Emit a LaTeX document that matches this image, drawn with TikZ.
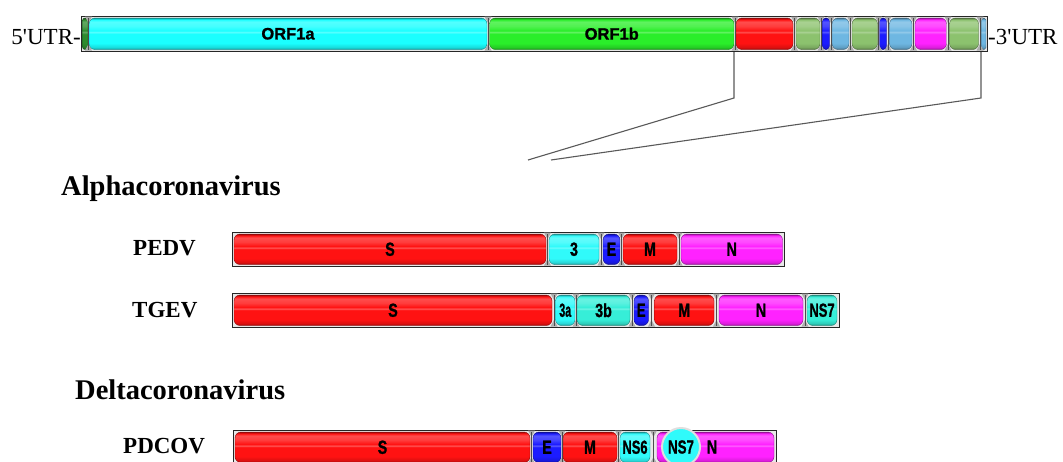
\documentclass[tikz,border=0pt]{standalone}
\usepackage{fontspec}
\usepackage{graphicx}
\setmainfont{Liberation Serif}
\newfontfamily\labfont{Liberation Sans}[BoldFeatures={FakeBold=1.2}]
\usetikzlibrary{calc}

% glossy fill for gene segments; stops lie in the 25bp..75bp band that maps onto the path
\colorlet{segc}{red}
\pgfdeclareverticalshading[segc]{gloss}{100bp}{%
  color(0bp)=(segc!55!black); color(25bp)=(segc!55!black);
  color(28bp)=(segc!85!black); color(35bp)=(segc);
  color(50bp)=(segc); color(52.5bp)=(segc!72!white); color(55bp)=(segc);
  color(62bp)=(segc!82!white); color(69bp)=(segc!75!white);
  color(72.5bp)=(segc); color(75bp)=(segc!60!black); color(100bp)=(segc!60!black)}

\definecolor{cyanS}{HTML}{1AFFFF}
\definecolor{grnS}{HTML}{2AEE2A}
\definecolor{redS}{HTML}{FF1212}
\definecolor{oliveS}{HTML}{8CC26E}
\definecolor{blueS}{HTML}{1C1CFF}
\definecolor{ltblS}{HTML}{6EB7E2}
\definecolor{magS}{HTML}{FF22FF}
\definecolor{dkgS}{HTML}{2E8B2E}
\definecolor{tealS}{HTML}{36EED8}
\definecolor{aquaS}{HTML}{30FAFA}

\tikzset{
  seg/.style={rectangle, inner sep=0pt, shading=gloss, draw=segc!55!black,
    line width=0.4pt, text=black, font=\labfont\bfseries\fontsize{16.5}{16.5}\selectfont},
  frame/.style={rectangle, inner sep=0pt, draw=black!85, line width=0.8pt, fill=gray!18},
  wedge/.style={fill=gray!65},
  seam/.style={draw=black!70, line width=0.5pt},
  link/.style={draw=black!65, line width=1.1pt},
  virus/.style={font=\bfseries\fontsize{28.5}{30}\selectfont, inner sep=0pt, anchor=base west},
  strain/.style={font=\bfseries\fontsize{23}{25}\selectfont, inner sep=0pt, anchor=base west},
  utr/.style={font=\fontsize{23}{25}\selectfont, inner sep=0pt},
}

% condensed gene label text
\newcommand\cnd[2][0.75]{\scalebox{#1}[1]{\fontsize{19}{19}\selectfont #2}}

% \seg{name}{x1}{x2}{colour}{label} between rows \yt and \yb
\newcommand\seg[5]{%
  \colorlet{segc}{#4}%
  \node[seg, minimum width={#3-#2}, minimum height={\yb-\yt},
        rounded corners={min(6,(#3-#2)/2-0.3)}]
        (#1) at ({(#2+#3)/2},{(\yt+\yb)/2}) {#5};}

% \junc{x}: grey hourglass between two neighbouring segments
\newcommand\junc[1]{%
  \fill[wedge] (#1-3.5,\yt-1.5) -- (#1+3.5,\yt-1.5) -- (#1,\yt+5) -- cycle;
  \fill[wedge] (#1-3.5,\yb+1) -- (#1+3.5,\yb+1) -- (#1,\yb-5.5) -- cycle;
  \draw[seam] (#1,\yt) -- (#1,\yb);}

\begin{document}
\begin{tikzpicture}[x=1pt,y=-1pt]
\useasboundingbox (0,0) rectangle (1063,461);
\clip (0,0) rectangle (1063,461);

% ---------- whole genome ----------
\coordinate (a1) at (734,51);
\coordinate (a2) at (734,98);
\coordinate (a3) at (528,160);
\coordinate (b1) at (981,51);
\coordinate (b2) at (981,98);
\coordinate (b3) at (551,160);
\draw[link] (a1) -- (a2) -- (a3);
\draw[link] (b1) -- (b2) -- (b3);

\node[frame, minimum width=906.5, minimum height=35] (genome) at (534.25,33.5) {};
\def\yt{18}\def\yb{49.5}
\seg{g0}{82.5}{88}{dkgS}{}
\seg{orf1a}{89}{487}{cyanS}{ORF1a}
\seg{orf1b}{489.5}{734}{grnS}{ORF1b}
\seg{gS}{736}{793}{redS}{}
\seg{g1}{796}{820}{oliveS}{}
\seg{g2}{822.5}{829.5}{blueS}{}
\seg{g3}{832}{849}{ltblS}{}
\seg{g4}{852}{877.5}{oliveS}{}
\seg{g5}{879.5}{886.5}{blueS}{}
\seg{g6}{889.5}{912}{ltblS}{}
\seg{g7}{915}{946.5}{magS}{}
\seg{g8}{949.5}{978.5}{oliveS}{}
\seg{g9}{981.5}{986}{ltblS}{}
\foreach \j in {88.5,488,735,794.5,821,831,850.5,878.5,888,913.5,948,980}{\junc{\j}}

\node[utr, anchor=base east] (utr5) at (81,44) {5\textquotesingle UTR-};
\node[utr, anchor=base west] (utr3) at (988,44) {-3\textquotesingle UTR};

% ---------- Alphacoronavirus ----------
\node[virus] (alpha) at (61,195) {Alphacoronavirus};
\node[strain] (pedv) at (133,255) {PEDV};
\node[strain] (tgev) at (132,317) {TGEV};

\node[frame, minimum width=552.5, minimum height=34] (pedvbar) at (508.25,249) {};
\def\yt{234}\def\yb{264.5}
\seg{pS}{234}{546}{redS}{\cnd{S}}
\seg{p3}{549}{599}{aquaS}{\cnd{3}}
\seg{pE}{603}{620}{blueS}{\cnd{E}}
\seg{pM}{623}{677}{redS}{\cnd{M}}
\seg{pN}{681}{782.5}{magS}{\cnd{N}}
\foreach \j in {547.5,601,621.5,679}{\junc{\j}}

\node[frame, minimum width=607, minimum height=34] (tgevbar) at (535.5,310) {};
\def\yt{295}\def\yb{325.5}
\seg{tS}{234}{552}{redS}{\cnd{S}}
\seg{t3a}{555.5}{575}{aquaS}{\cnd[0.56]{3a}}
\seg{t3b}{577}{630}{tealS}{\cnd{3b}}
\seg{tE}{634}{648.5}{blueS}{\cnd[0.68]{E}}
\seg{tM}{654.5}{714}{redS}{\cnd{M}}
\seg{tN}{719}{803}{magS}{\cnd{N}}
\seg{t7}{807}{837}{tealS}{\cnd[0.68]{NS7}}
\foreach \j in {554,576,632,651.5,716.5,805}{\junc{\j}}

% ---------- Deltacoronavirus ----------
\node[virus] (delta) at (75,399) {Deltacoronavirus};
\node[strain] (pdcov) at (123,453) {PDCOV};

\node[frame, minimum width=543, minimum height=34] (pdcovbar) at (504.5,447) {};
\def\yt{432}\def\yb{462.5}
\seg{dS}{235}{530}{redS}{\cnd{S}}
\seg{dE}{533}{561}{blueS}{\cnd{E}}
\seg{dM}{563}{617}{redS}{\cnd{M}}
\seg{d6}{620}{650}{aquaS}{\cnd[0.68]{NS6}}
\seg{dN}{657}{774}{magS}{}
\foreach \j in {531.5,562,618.5,653.5}{\junc{\j}}
\node[circle, inner sep=0pt, minimum size=38, fill=aquaS, draw=gray!25, line width=2pt,
      font=\labfont\bfseries] (d7) at (681,447) {\cnd[0.7]{NS7}};
\node[font=\labfont\bfseries, inner sep=0pt] (dNlab) at (712,447) {\cnd{N}};
\end{tikzpicture}
\end{document}
